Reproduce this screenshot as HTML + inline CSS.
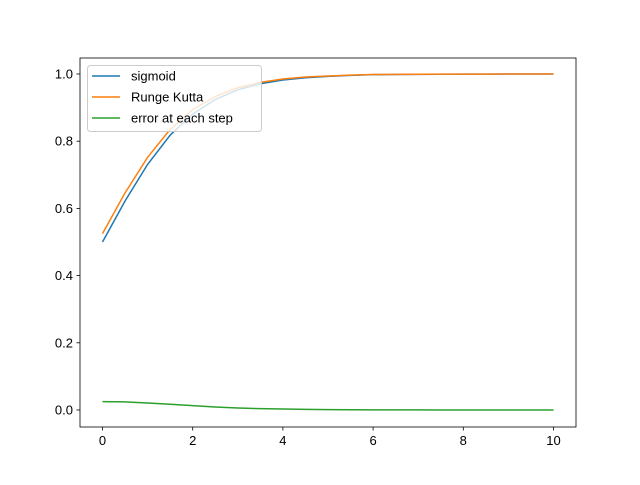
<!DOCTYPE html>
<html><head><meta charset="utf-8"><style>
body{margin:0;background:#fff}
svg text{font-family:"Liberation Sans","DejaVu Sans",sans-serif;font-size:13px;fill:#000}
</style></head><body>
<svg id="chart" width="640" height="480">
<rect width="640" height="480" fill="#fff"/>
<g id="plot"></g>
</svg>
<script>
const xs=[0,0.5,1,1.5,2,2.5,3,3.5,4,4.5,5,5.5,6,6.5,7,7.5,8,8.5,9,9.5,10];
const sigmoid=[0.5,0.622,0.731,0.818,0.881,0.924,0.953,0.971,0.982,0.989,0.993,0.996,0.998,0.9985,0.999,0.9994,0.9997,0.9998,0.9999,0.9999,1.0];
const rungeKutta=[0.525,0.646,0.752,0.835,0.894,0.933,0.959,0.975,0.985,0.991,0.994,0.9967,0.9984,0.9988,0.9992,0.9995,0.9997,0.9998,0.9999,0.9999,1.0];
const errorStep=[0.025,0.024,0.021,0.017,0.013,0.009,0.006,0.004,0.003,0.002,0.001,0.0007,0.0004,0.0003,0.0002,0.0001,0,0,0,0,0];
const xTicks=[0,2,4,6,8,10];
const yTicks=[0.0,0.2,0.4,0.6,0.8,1.0];
const names=["sigmoid","Runge Kutta","error at each step"];
const colors=["#1f77b4","#ff7f0e","#2ca02c"];
const L=80,R=576,T=58,B=427;
const X=v=>102.5+v*45.1;
const Y=v=>410-v*336;
const g=document.getElementById('plot');
const NS='http://www.w3.org/2000/svg';
function mk(t,a,p){const e=document.createElementNS(NS,t);for(const k in a)e.setAttribute(k,a[k]);(p||g).appendChild(e);return e;}
[sigmoid,rungeKutta,errorStep].forEach((s,i)=>{
 const pl=mk('polyline',{points:xs.map((x,j)=>X(x)+','+Y(s[j])).join(' '),fill:'none',stroke:colors[i],'stroke-width':1.5});
 
 
});
const fr=mk('rect',{x:L,y:T,width:R-L,height:B-T,fill:'none',stroke:'#000','stroke-width':0.8});


xTicks.forEach(t=>{
 mk('line',{x1:X(t),x2:X(t),y1:B,y2:B+3.5,stroke:'#000','stroke-width':0.8});
 const tx=mk('text',{x:X(t),y:B+18,'text-anchor':'middle'});tx.textContent=t;
 
 
});
yTicks.forEach(t=>{
 mk('line',{x1:L-3.5,x2:L,y1:Y(t),y2:Y(t),stroke:'#000','stroke-width':0.8});
 const tx=mk('text',{x:L-7,y:Y(t)+4.5,'text-anchor':'end'});tx.textContent=t.toFixed(1);
 
 
});
const lg=mk('g',{});


mk('rect',{x:87.5,y:65.5,width:174,height:66,rx:3,fill:'#fff','fill-opacity':0.8,stroke:'#ccc'},lg);
names.forEach((n,i)=>{
 const y=76+i*21;
 mk('line',{x1:92,x2:120,y1:y,y2:y,stroke:colors[i],'stroke-width':1.5},lg);
 const tx=mk('text',{x:131,y:y+4.5},lg);tx.textContent=n;
 
 
});
</script>
</body></html>
